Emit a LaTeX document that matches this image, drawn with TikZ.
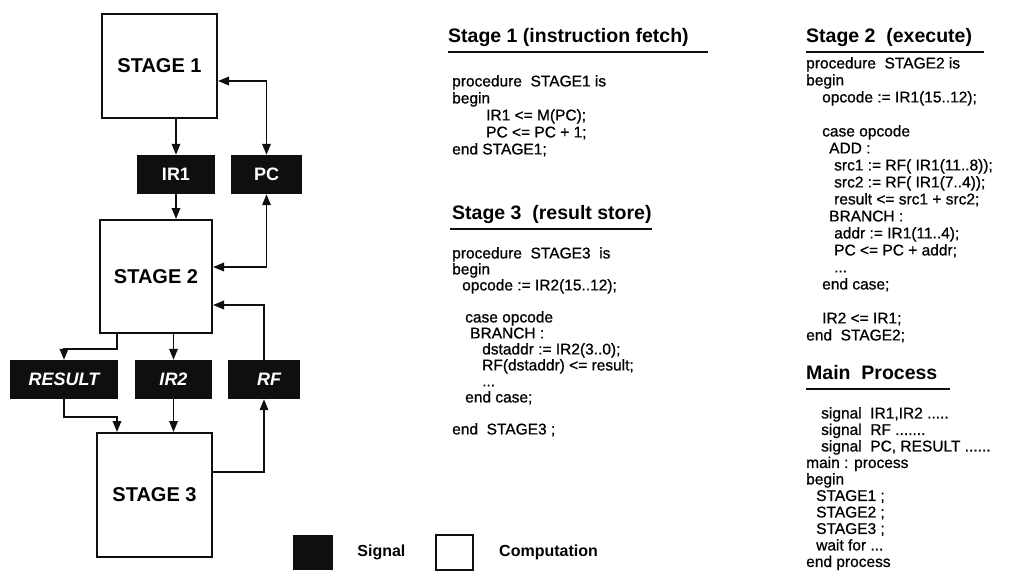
\documentclass[tikz,border=0pt]{standalone}
\usepackage{fontspec}
\setmainfont{Liberation Sans}
\newfontfamily\codefont[FakeBold=0.8]{Liberation Sans}
\usepackage{tikz}
\usetikzlibrary{arrows.meta, positioning, calc}
\definecolor{ink}{RGB}{15,15,15}
\tikzset{
  stagebox/.style={rectangle, draw=ink, fill=white, line width=2pt, inner sep=0pt, font=\fontsize{20}{24}\selectfont\bfseries},
  sigbox/.style={rectangle, fill=ink, text=white, minimum height=39pt, inner sep=0pt, font=\fontsize{18}{22}\selectfont\bfseries},
  arrow/.style={-{Triangle[length=11pt,width=8.5pt]}, line width=1.8pt, color=ink},
  biarrow/.style={{Triangle[length=11pt,width=8.5pt]}-{Triangle[length=11pt,width=8.5pt]}, line width=1.8pt, color=ink},
  headtext/.style={anchor=base west, inner sep=0pt, font=\fontsize{19.5}{22}\selectfont\bfseries},
  codetext/.style={anchor=north west, inner sep=0pt, align=left, font=\codefont\fontsize{15.5}{17}\selectfont},
  headrule/.style={line width=1.8pt, color=ink}
}

\begin{document}
\begin{tikzpicture}[x=1pt, y=1pt]
  \useasboundingbox (0,0) rectangle (1034,-581);

  % Computation stages
  \node[stagebox, minimum width=115pt, minimum height=104pt] (s1) at (159.5,-66) {STAGE 1};
  \node[stagebox, minimum width=112pt, minimum height=113pt] (s2) at (156,-276.5) {STAGE 2};
  \node[stagebox, minimum width=115pt, minimum height=124pt] (s3) at (154.5,-495) {STAGE 3};

  % Signals
  \node[sigbox, minimum width=78pt] (ir1) at (176,-174.5) {IR1};
  \node[sigbox, minimum width=71pt] (pc) at (266.5,-174.5) {PC};
  \node[sigbox, minimum width=108pt] (res) at (64,-379.5) {\itshape RESULT};
  \node[sigbox, minimum width=77pt] (ir2) at (173.5,-379.5) {\itshape IR2};
  \node[sigbox, minimum width=72pt] (rf) at (264,-379.5) {\itshape\ \ RF};

  % Connections
  \draw[arrow] (ir1.north |- s1.south) -- (ir1.north);
  \draw[arrow] (ir1.south) -- (ir1.south |- s2.north);
  \draw[biarrow] ($(s1.east)+(0,-15)$) -| (pc.north);
  \draw[biarrow] (pc.south) |- ($(s2.east)+(0,9.5)$);
  \draw[arrow] ($(s2.south west)+(18,0)$) -- ++(0,-15) -| (res.north);
  \draw[arrow] (ir2.north |- s2.south) -- (ir2.north);
  \draw[arrow] (res.south) -- ++(0,-18) -| ($(s3.north west)+(21,0)$);
  \draw[arrow] (ir2.south) -- (ir2.south |- s3.north);
  \draw[arrow] ($(s3.east)+(0,23)$) -| (rf.south);
  \draw[arrow] (rf.north) |- ($(s2.east)+(0,-28.5)$);

  % Legend
  \node[sigbox, minimum width=40pt, minimum height=35pt] (lsig) at (313,-552.5) {};
  \node[right=24pt of lsig, inner sep=0pt, font=\fontsize{16}{19}\selectfont\bfseries] (lsigt) {Signal};
  \node[stagebox, minimum width=37pt, minimum height=35pt] (lcomp) at (454.5,-552.5) {};
  \node[right=25pt of lcomp, inner sep=0pt, font=\fontsize{16}{19}\selectfont\bfseries] (lcompt) {Computation};

  % Stage 1 code
  \node[headtext] (t1) at (448,-42) {Stage 1 (instruction fetch)};
  \draw[headrule] (448,-52) -- (708,-52);
  \node[codetext] (c1) at (452,-75) {procedure\ \ STAGE1 is\\
    begin\\
    \hspace*{34pt}IR1 <= M(PC);\\
    \hspace*{34pt}PC <= PC + 1;\\
    end STAGE1;};

  % Stage 3 code
  \node[headtext] (t3) at (452,-219) {Stage 3\ \ (result store)};
  \draw[headrule] (450,-229) -- (652,-229);
  \node[codetext, font=\codefont\fontsize{15.5}{16}\selectfont] (c3) at (452,-247) {procedure\ \ STAGE3\ \ is\\
    begin\\
    \hspace*{10pt}opcode := IR2(15..12);\\[16pt]
    \hspace*{13pt}case opcode\\
    \hspace*{18pt}BRANCH :\\
    \hspace*{30pt}dstaddr := IR2(3..0);\\
    \hspace*{30pt}RF(dstaddr) <= result;\\
    \hspace*{30pt}...\\
    \hspace*{13pt}end case;\\[16pt]
    end\ \ STAGE3 ;};

  % Stage 2 code
  \node[headtext] (t2) at (806,-42) {Stage 2\ \ (execute)};
  \draw[headrule] (806,-52) -- (984,-52);
  \node[codetext] (c2) at (806,-57) {procedure\ \ STAGE2 is\\
    begin\\
    \hspace*{16pt}opcode := IR1(15..12);\\[17pt]
    \hspace*{16pt}case opcode\\
    \hspace*{23pt}ADD :\\
    \hspace*{28pt}src1 := RF( IR1(11..8));\\
    \hspace*{28pt}src2 := RF( IR1(7..4));\\
    \hspace*{28pt}result <= src1 + src2;\\
    \hspace*{23pt}BRANCH :\\
    \hspace*{28pt}addr := IR1(11..4);\\
    \hspace*{28pt}PC <= PC + addr;\\
    \hspace*{28pt}...\\
    \hspace*{16pt}end case;\\[17pt]
    \hspace*{16pt}IR2 <= IR1;\\
    end\ \ STAGE2;};

  % Main process
  \node[headtext] (tm) at (806,-379) {Main\ \ Process};
  \draw[headrule] (806,-389) -- (950,-389);
  \node[codetext, font=\codefont\fontsize{15.5}{16.5}\selectfont] (cm) at (806,-407) {\hspace*{15pt}signal\ \ IR1,IR2 .....\\
    \hspace*{15pt}signal\ \ RF .......\\
    \hspace*{15pt}signal\ \ PC, RESULT ......\\
    main : process\\
    begin\\
    \hspace*{10pt}STAGE1 ;\\
    \hspace*{10pt}STAGE2 ;\\
    \hspace*{10pt}STAGE3 ;\\
    \hspace*{10pt}wait for ...\\
    end process};
\end{tikzpicture}
\end{document}
